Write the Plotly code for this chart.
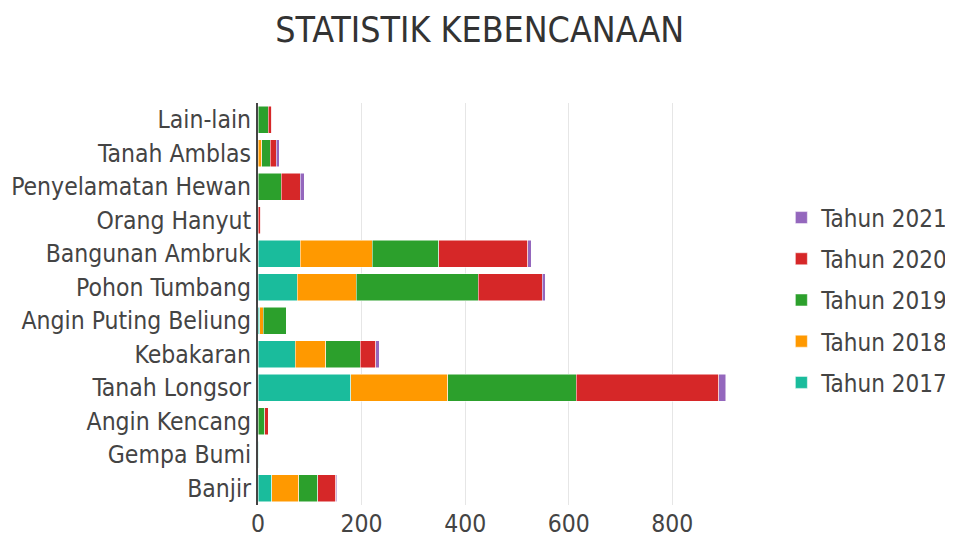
import plotly.graph_objects as go

categories = ["Banjir", "Gempa Bumi", "Angin Kencang", "Tanah Longsor", "Kebakaran",
              "Angin Puting Beliung", "Pohon Tumbang", "Bangunan Ambruk", "Orang Hanyut",
              "Penyelamatan Hewan", "Tanah Amblas", "Lain-lain"]

tahun_2017 = [27, 1, 0, 179, 72, 3, 76, 82, 0, 0, 0, 0]
tahun_2018 = [52, 2, 0, 187, 59, 7, 114, 139, 0, 0, 7, 0]
tahun_2019 = [36, 0, 13, 248, 66, 45, 235, 128, 0, 45, 17, 20]
tahun_2020 = [35, 0, 7, 276, 30, 0, 124, 172, 5, 37, 11, 7]
tahun_2021 = [2, 0, 0, 13, 7, 0, 6, 7, 0, 7, 6, 0]

series = [
    ("Tahun 2017", tahun_2017, "#1abc9c"),
    ("Tahun 2018", tahun_2018, "#ff9900"),
    ("Tahun 2019", tahun_2019, "#2ca02c"),
    ("Tahun 2020", tahun_2020, "#d62728"),
    ("Tahun 2021", tahun_2021, "#9467bd"),
]

font_family = "DejaVu Sans Condensed, DejaVu Sans, sans-serif"

fig = go.Figure()
n = len(series)
for i, (name, vals, color) in enumerate(series):
    fig.add_trace(go.Bar(y=categories, x=vals, name=name, orientation="h",
                         legendgroup=name, legendrank=1000 + (n - i),
                         marker=dict(color=color, line=dict(width=0.5, color="white"))))

fig.update_layout(
    barmode="stack",
    width=953, height=537,
    paper_bgcolor="white", plot_bgcolor="white",
    font=dict(family=font_family, size=24.5, color="#444"),
    title=dict(text="STATISTIK KEBENCANAAN", x=0.495, xanchor="center", y=0.959,
               yanchor="middle", font=dict(size=35.5, color="#333", family=font_family)),
    margin=dict(l=250, r=212, t=95, b=40),
    bargap=0.2,
    legend=dict(xref="container", x=0.8115, y=0.51, yanchor="middle", xanchor="left",
                font=dict(size=24, color="#444"), tracegroupgap=7,
                traceorder="grouped"),
    xaxis=dict(range=[0, 948], tickvals=[0, 200, 400, 600, 800], showgrid=True,
               gridcolor="#e6e6e6", zeroline=False, ticks="", ticklen=0,
               ticklabelstandoff=1, automargin=False),
    yaxis=dict(showline=True, linecolor="#444", linewidth=2, ticks="", ticklen=0,
               showgrid=False, automargin=False),
)

fig.write_html("out.html")
